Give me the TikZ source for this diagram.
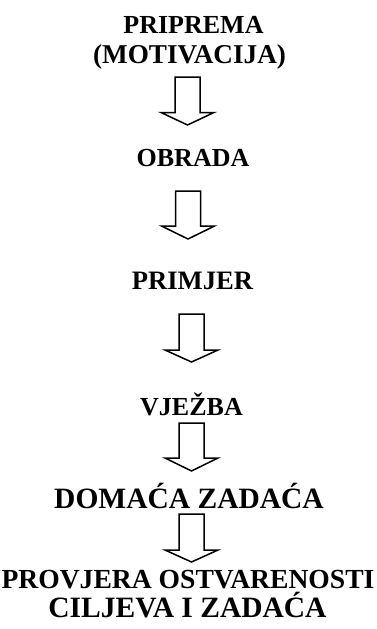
\documentclass[tikz,border=0pt]{standalone}
\usepackage{fontspec}
\setmainfont{Liberation Serif}
\begin{document}
\begin{tikzpicture}[x=1pt,y=-1pt,
  lbl/.style={anchor=base,inner sep=0pt,font=\fontsize{26}{30}\selectfont\bfseries},
  blk/.style={draw=black,line width=1.5pt,fill=white,line join=miter}]
\useasboundingbox (0,0) rectangle (376,629);
\node[lbl] (t1) at (193.5,33) {PRIPREMA};
\node[lbl,font=\fontsize{27.2}{30}\selectfont\bfseries] (t1b) at (189.5,63) {(MOTIVACIJA)};
\node[lbl] (t2) at (193,166) {OBRADA};
\node[lbl,font=\fontsize{26.6}{30}\selectfont\bfseries] (t3) at (192.5,289) {PRIMJER};
\node[lbl] (t4) at (191.5,415) {VJEŽBA};
\node[lbl,font=\fontsize{29.5}{34}\selectfont\bfseries] (t5) at (189,508) {DOMAĆA ZADAĆA};
\node[lbl,font=\fontsize{27.6}{30}\selectfont\bfseries] (t6) at (188,588) {PROVJERA OSTVARENOSTI};
\node[lbl,font=\fontsize{29.5}{34}\selectfont\bfseries] (t6b) at (187.5,617) {CILJEVA I ZADAĆA};
% block arrows: center x, shaft top, wing y, tip y
\foreach \cx/\top/\wing/\tip in {187.5/77/112.5/125, 188/191/226/239, 191.5/314/350/362, 191.5/423/458/471, 191.5/514/550/562}{
  \draw[blk] (\cx-12.5,\top) -- (\cx+12.5,\top) -- (\cx+12.5,\wing) -- (\cx+26.5,\wing)
    -- (\cx,\tip) -- (\cx-26.5,\wing) -- (\cx-12.5,\wing) -- cycle;
}
\end{tikzpicture}
\end{document}
